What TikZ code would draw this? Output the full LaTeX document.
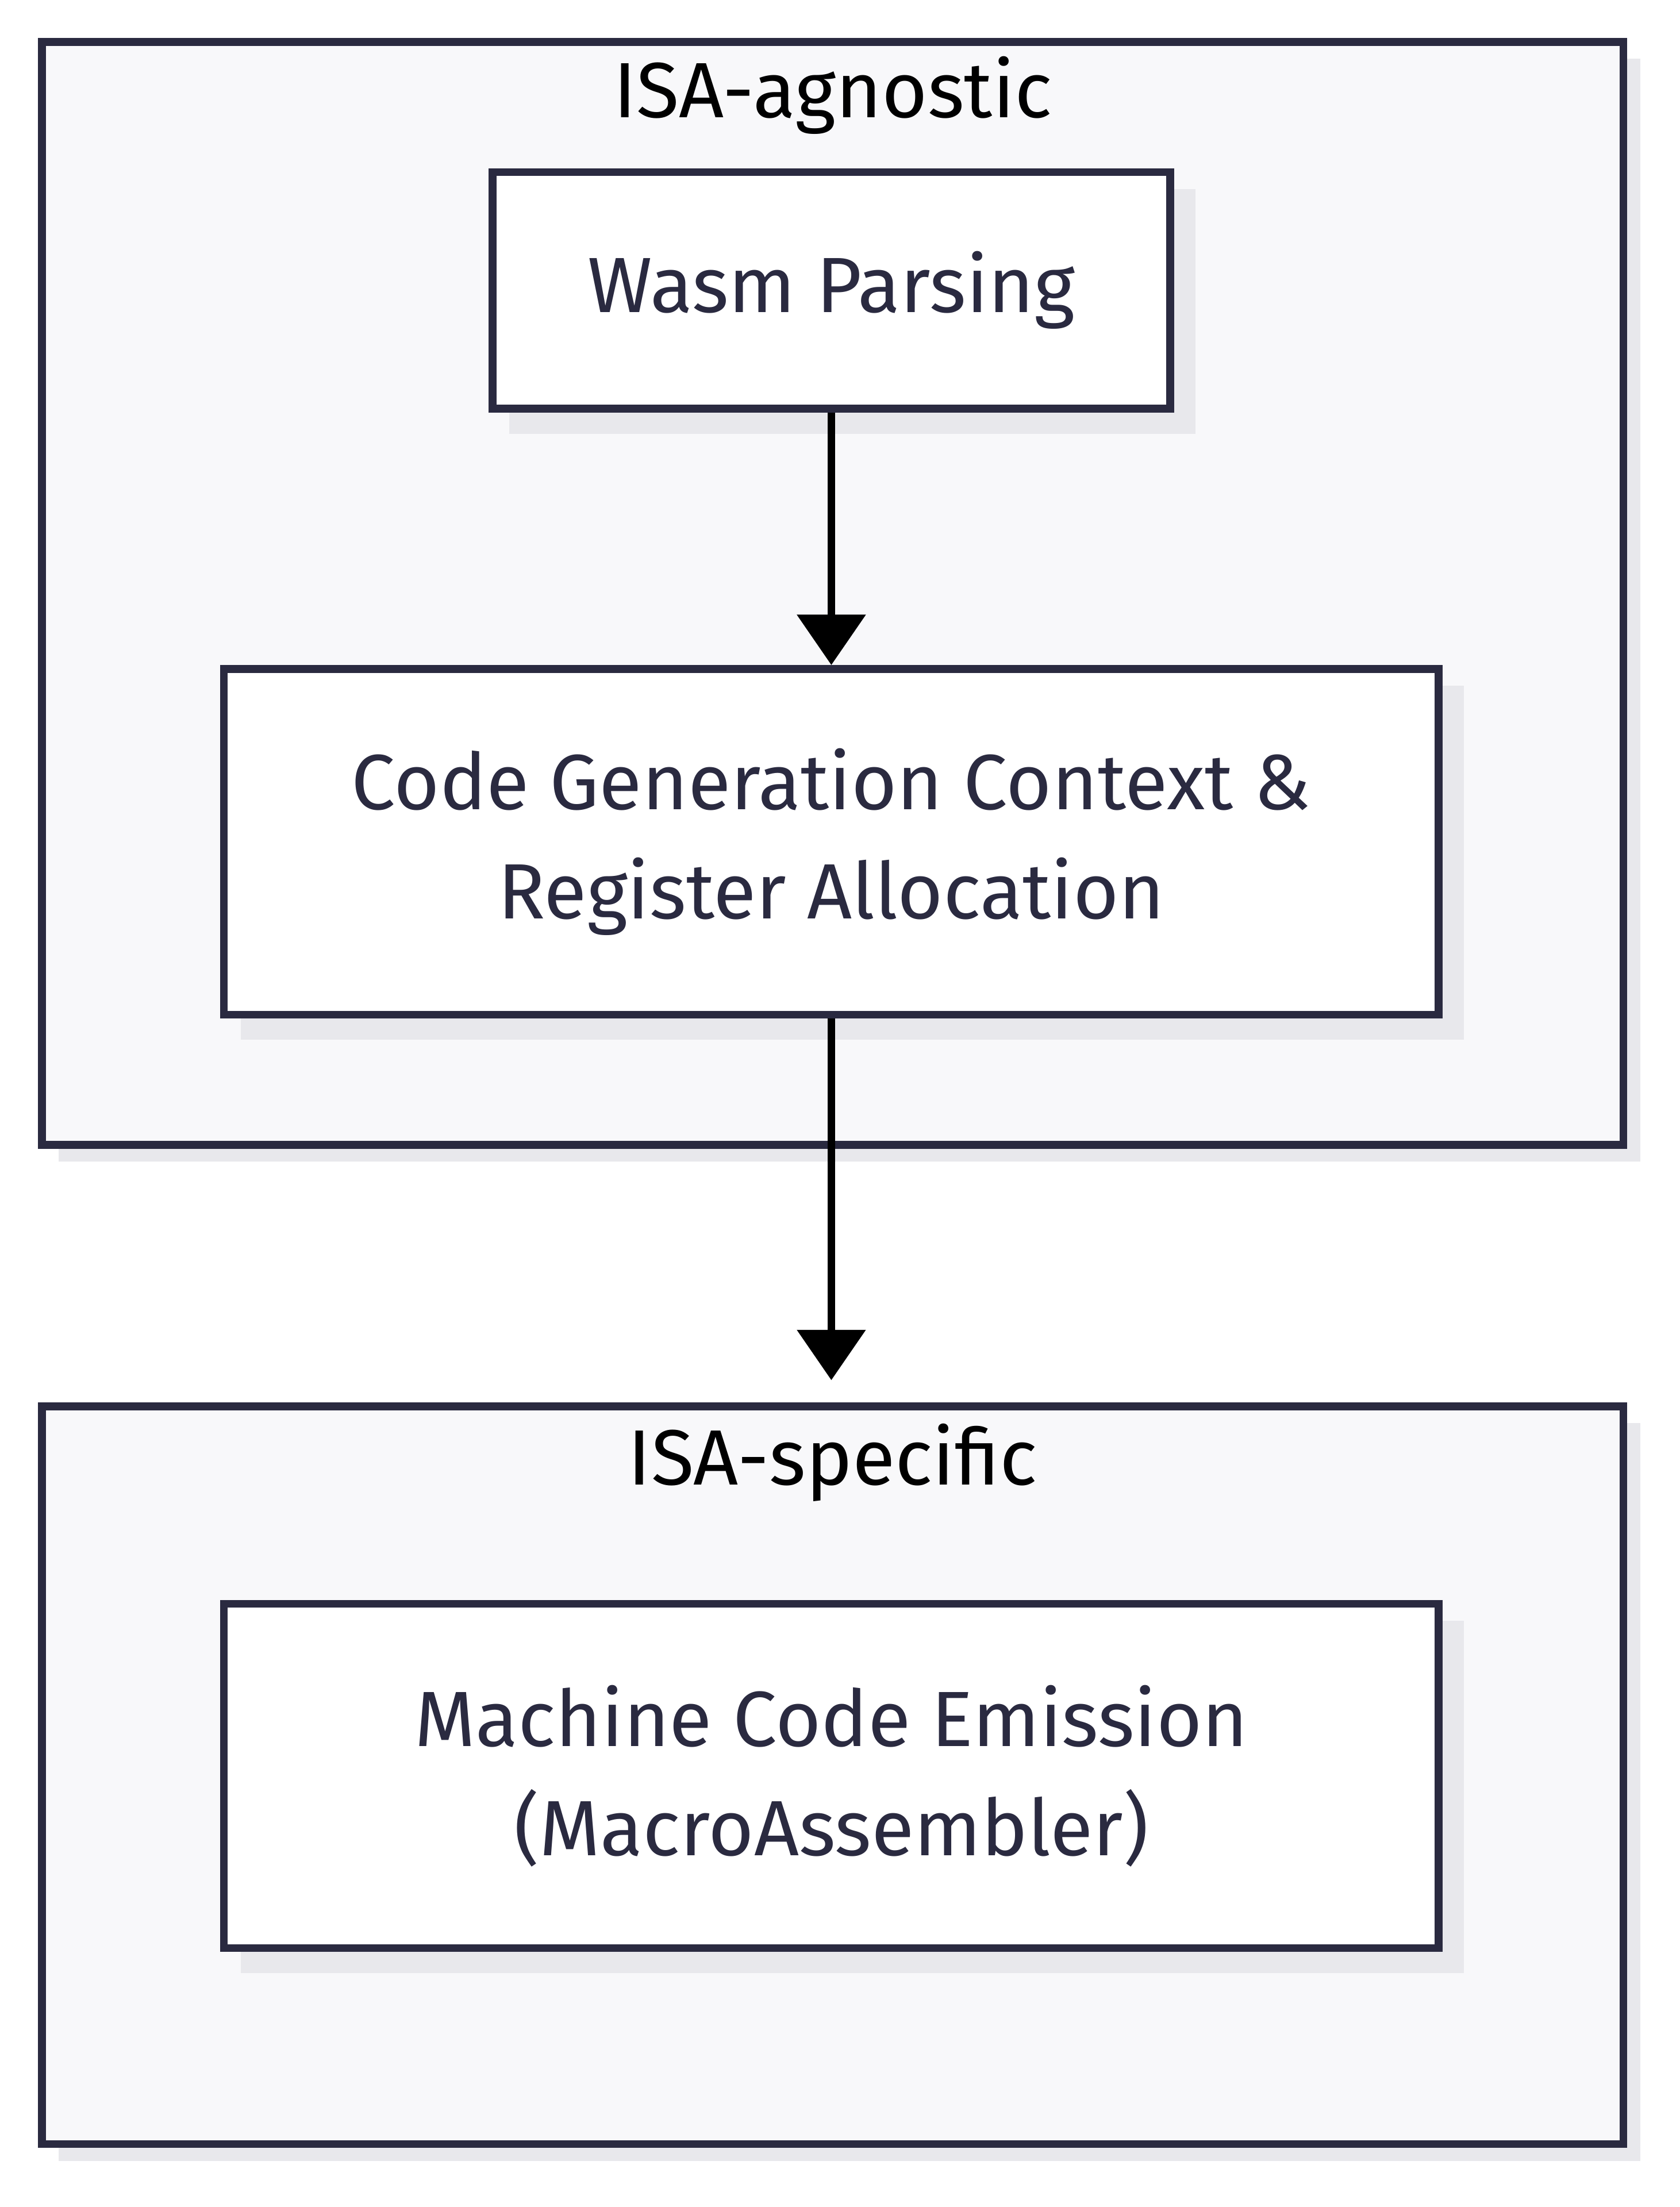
\documentclass[tikz,border=0pt]{standalone}
\usepackage{fontspec}
\setmainfont{Fira Sans}
\usetikzlibrary{arrows.meta}
\definecolor{navy}{HTML}{2A2A40}
\definecolor{groupbg}{HTML}{F8F8FA}
\definecolor{shadowgray}{HTML}{E8E8EC}
\tikzset{
  grp/.style={draw=navy, line width=2.8pt, fill=groupbg, inner sep=0pt, minimum width=565pt},
  box/.style={draw=navy, line width=2.8pt, fill=white, text=navy, align=center, inner sep=0pt,
    font=\fontsize{28}{39}\selectfont},
  ttl/.style={font=\fontsize{28}{39}\selectfont, text=black},
  drop/.style={fill=shadowgray},
  flow/.style={line width=2.8pt, -{Triangle[length=18pt,width=24pt]}}
}
\begin{document}
\begin{tikzpicture}[x=0.5pt,y=-0.5pt]
\useasboundingbox (0,0) rectangle (1200,1577);

% shadows
\fill[drop] (42,42) rectangle (1172,830);
\fill[drop] (42,1017) rectangle (1172,1544);

\node[grp, minimum height=394pt] (agn) at (595,424) {};
\node[grp, minimum height=263.5pt] (spec) at (595,1268.5) {};

\node[ttl] (agnT) at (595,68) {ISA-agnostic};
\node[ttl] (specT) at (595,1045) {ISA-specific};

\fill[drop] (364,135) rectangle (854,310);
\fill[drop] (172,490) rectangle (1046,743);
\fill[drop] (172,1158) rectangle (1046,1410);

\node[box, minimum width=242pt, minimum height=84.5pt] (parse) at (594,207.5) {Wasm Parsing};
\node[box, minimum width=434pt, minimum height=123.5pt] (ctx) at (594,601.5) {Code Generation Context \&\\Register Allocation};
\node[box, minimum width=434pt, minimum height=123pt] (emit) at (594,1269) {Machine Code Emission\\(MacroAssembler)};

\draw[flow] (parse) -- (ctx);
\draw[flow] (ctx) -- ([yshift=8pt]emit.north |- spec.north);
\end{tikzpicture}
\end{document}
